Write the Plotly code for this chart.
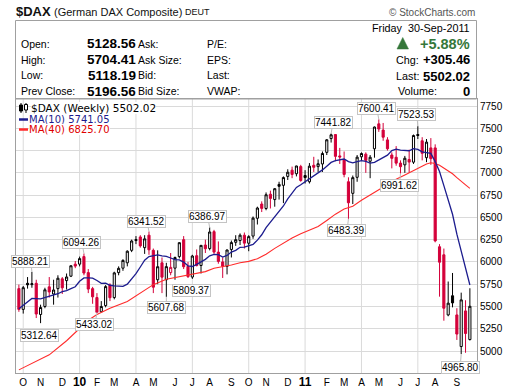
import plotly.graph_objects as go
import pandas as pd

# ---------------- data ----------------
first_week = "2009-09-28"          # weekly bars, dated by week start
prior_close = 5581.0               # close of the week before the first bar

opens = [5700, 5467, 5760, 5745, 5760, 5410, 5500, 5720, 5640, 5700,
         5810, 5790, 5840, 5975, 5975, 6060, 5880, 5700, 5600, 5440,
         5510, 5740, 5600, 5880, 5930, 5990, 6130, 6240, 6280, 6160,
         6300, 6130, 5800, 5990, 5800, 5880, 5930, 6060, 6250, 5950,
         5830, 6070, 5960, 6190, 6150, 6340, 6110, 6000, 5950, 6140,
         6220, 6240, 6300, 6210, 6290, 6490, 6650, 6600, 6760, 6700,
         6870, 6860, 6960, 7030, 6990, 7070, 6970, 6900, 7085, 7070,
         7100, 7230, 7385, 7430, 7190, 7145, 6900, 6770, 6950, 7180,
         7210, 7130, 7270, 7550, 7480, 7370, 7200, 7175, 7110, 7090,
         7150, 7120, 7430, 7360, 7170, 7280, 7280, 6170, 6080, 5405,
         5620, 5405, 5050, 5450, 5128.56]
highs = [5745, 5730, 5830, 5888.21, 5800, 5520, 5710, 5830, 5800, 5850,
         5830, 5870, 5960, 6010, 6060, 6094.26, 5920, 5720, 5650, 5560,
         5740, 5760, 5890, 5950, 6030, 6130, 6250, 6290, 6300, 6300,
         6341.52, 6150, 6130, 6050, 5990, 6100, 6060, 6220, 6290, 6000,
         6080, 6140, 6190, 6250, 6386.97, 6360, 6230, 6050, 6140, 6240,
         6300, 6320, 6330, 6300, 6510, 6620, 6680, 6780, 6800, 6830,
         6900, 6960, 7040, 7070, 7080, 7090, 7030, 7110, 7180, 7150,
         7240, 7380, 7441.82, 7435, 7280, 7240, 6950, 6970, 7200, 7230,
         7230, 7200, 7520, 7600.41, 7560, 7400, 7230, 7300, 7140, 7190,
         7260, 7430, 7523.53, 7400, 7380, 7390, 7320, 6200, 6150, 5780,
         5876, 5480, 5655, 5570, 5704.41]
lows = [5440, 5420, 5700, 5710, 5370, 5312.64, 5480, 5600, 5520, 5600,
        5640, 5690, 5830, 5930, 5950, 5850, 5650, 5530, 5433.02, 5435,
        5490, 5560, 5580, 5850, 5900, 5950, 6110, 6200, 6160, 6090,
        6080, 5650, 5750, 5650, 5607.68, 5850, 5800, 6040, 5920, 5820,
        5809.37, 5950, 5870, 6100, 6130, 6090, 5980, 5820, 5860, 6050,
        6180, 6190, 6150, 6120, 6260, 6420, 6560, 6580, 6600, 6620,
        6700, 6660, 6920, 6940, 6960, 6900, 6880, 6880, 7010, 7010,
        7010, 7200, 7340, 7130, 7100, 6950, 6483.39, 6650, 6900, 7140,
        7000, 6940, 7170, 7460, 7360, 7250, 7050, 7080, 6991.62, 7000,
        7000, 7100, 7380, 7140, 7120, 7090, 6220, 5610, 5340, 5390,
        5490, 5124, 4965.80, 4980, 5118.19]
closes = [5467, 5711, 5743, 5755, 5415, 5488, 5687, 5663, 5685, 5817,
          5709, 5831, 5957, 5953, 6037, 5875, 5695, 5608, 5434, 5500,
          5723, 5598, 5877, 5928, 6017, 6120, 6235, 6250, 6180, 6259,
          6136, 5716, 5946, 5829, 5947, 5939, 6049, 6216, 5946, 5835,
          6066, 5959, 6186, 6148, 6336, 6110, 6006, 5951, 6134, 6217,
          6250, 6300, 6211, 6284, 6492, 6605, 6601, 6754, 6713, 6822,
          6849, 6947, 7007, 6982, 7077, 6914, 6947, 7075, 7062, 7102,
          7217, 7371, 7427, 7185, 7178, 6982, 6664, 6946, 7176, 7217,
          7140, 7175, 7514, 7492, 7400, 7270, 7163, 7109, 7069, 7164,
          7121, 7419, 7420, 7219, 7345, 7159, 6236, 5997, 5480, 5537,
          5540, 5190, 5574, 5196.56, 5502.02]

ma10_weeks = [0, 3, 5, 8] + list(range(9, 105))
ma10_values = [5475, 5590, 5585, 5625,
               5643, 5667, 5679, 5701, 5721, 5783, 5821, 5822, 5817, 5792,
               5760, 5761, 5738, 5730, 5728, 5726, 5750, 5804, 5868, 5943,
               6019, 6060, 6072, 6079, 6069, 6062, 6044, 6025, 6022, 5998,
               5956, 5949, 5973, 5997, 6029, 6068, 6085, 6081, 6054, 6073,
               6111, 6130, 6164, 6166, 6180, 6196, 6245, 6305, 6385, 6443,
               6503, 6563, 6628, 6707, 6777, 6836, 6867, 6901, 6933, 6968,
               6996, 7033, 7075, 7117, 7138, 7148, 7155, 7126, 7113, 7125,
               7136, 7129, 7109, 7118, 7148, 7171, 7199, 7249, 7266, 7255,
               7250, 7248, 7272, 7263, 7235, 7230, 7219, 7126, 7015, 6856,
               6693, 6535, 6312, 6128, 5925, 5741.05]
ma40_weeks = [0, 3, 7, 11, 14, 16, 18, 21, 25, 28, 31, 34, 37, 39, 41, 43,
              45, 47, 49, 51, 53, 55, 57, 59, 61, 63, 65, 67, 69, 71, 73, 75,
              77, 79, 81, 83, 85, 87, 89, 91, 93, 94, 95, 96, 97, 98, 99, 100,
              101, 102, 103, 104]
ma40_values = [4788, 4863, 4957, 5115, 5255, 5345, 5410, 5480, 5555, 5650,
               5745, 5805, 5835, 5849, 5870, 5891, 5930, 5945, 5966, 5991,
               6006, 6036, 6087, 6152, 6214, 6269, 6315, 6354, 6397, 6465,
               6536, 6593, 6626, 6692, 6749, 6815, 6871, 6929, 6976, 7026,
               7079, 7100, 7114, 7105, 7086, 7055, 7023, 6990, 6946, 6910,
               6865, 6825.70]

label_weeks = [3, 5, 15, 18, 30, 34, 40, 44, 72, 76, 83, 88, 92, 102]
label_values = [5888.21, 5312.64, 6094.26, 5433.02, 6341.52, 5607.68, 5809.37,
                6386.97, 7441.82, 6483.39, 7600.41, 6991.62, 7523.53, 4965.80]

y_ticks = [5000, 5250, 5500, 5750, 6000, 6250, 6500, 6750, 7000, 7250, 7500, 7750]

quote_labels = ["Open:", "High:", "Low:", "Prev Close:"]
quote_values = ["5128.56", "5704.41", "5118.19", "5196.56"]
bid_labels = ["Ask:", "Ask Size:", "Bid:", "Bid Size:"]
misc_labels = ["P/E:", "EPS:", "Last:", "VWAP:"]
day_text = "Friday\u00a0\u00a030-Sep-2011"
pct_text = "+5.88%"
side_labels = ["Chg:", "Last:", "Volume:"]
side_values = ["+305.46", "5502.02", "0"]
legend_price = "$DAX (Weekly) 5502.02"
legend_ma10 = "MA(10) 5741.05"
legend_ma40 = "MA(40) 6825.70"

# ---------------- styling ----------------
FONT = "Liberation Sans, Arial, sans-serif"
LFONT = "DejaVu Sans, Verdana, sans-serif"
RED = "#d4003a"
GRID = "#dadada"
BORDER = "#a0a0a0"
GREEN = "#35773a"
NAVY = "#1c1c8e"
MARED = "#ff2b2b"

dates = pd.date_range(first_week, periods=len(closes), freq="W-MON")

PLOT_TOP, PLOT_BOTTOM = 99, 373


def PX(x):
    return (x - 16) / 461


def PY(y):
    return (PLOT_BOTTOM - y) / (PLOT_BOTTOM - PLOT_TOP)


prev = [prior_close] + closes[:-1]
black_idx = [k for k in range(len(closes)) if closes[k] >= prev[k]]
red_idx = [k for k in range(len(closes)) if closes[k] < prev[k]]

fig = go.Figure()
fig.add_trace(go.Scatter(x=dates[ma40_weeks], y=ma40_values, mode="lines",
                         line=dict(color=MARED, width=1.1), hoverinfo="skip"))
fig.add_trace(go.Scatter(x=dates[ma10_weeks], y=ma10_values, mode="lines",
                         line=dict(color=NAVY, width=1.3), hoverinfo="skip"))
for idx, col in ((black_idx, "#000000"), (red_idx, RED)):
    fig.add_trace(go.Candlestick(
        x=dates[idx],
        open=[opens[k] for k in idx], high=[highs[k] for k in idx],
        low=[lows[k] for k in idx], close=[closes[k] for k in idx],
        increasing=dict(line=dict(color=col, width=1), fillcolor="white"),
        decreasing=dict(line=dict(color=col, width=1), fillcolor=col),
        whiskerwidth=0, hoverinfo="skip", showlegend=False))

# month ticks at first bar of each month
month_ticks, month_text = [], []
for k in range(1, len(dates)):
    if dates[k].month != dates[k - 1].month:
        month_ticks.append(dates[k])
        if dates[k].month == 1:
            month_text.append("<b><span style='font-size:12px'>%02d</span></b>" % (dates[k].year % 100))
        else:
            month_text.append(dates[k].strftime("%b")[0])
quarter_ticks = [d for d in month_ticks if d.month in (1, 4, 7, 10)]

shapes = []
for d in quarter_ticks:
    shapes.append(dict(type="line", xref="x", yref="paper", x0=d, x1=d, y0=0, y1=1,
                       line=dict(color=GRID, width=1), layer="below"))
# header box
shapes.append(dict(type="rect", xref="paper", yref="paper", x0=PX(15.5), x1=PX(476.5),
                   y0=PY(99), y1=PY(20.5), line=dict(color=BORDER, width=1)))
# up-arrow icon next to the percent change
shapes.append(dict(type="path", xref="paper", yref="paper",
                   path="M %f %f L %f %f L %f %f Z" % (PX(397), PY(49), PX(408.5), PY(49),
                                                       PX(402.75), PY(37.5)),
                   line=dict(color=GREEN, width=0.5), fillcolor=GREEN))
# legend line keys
shapes.append(dict(type="line", xref="paper", yref="paper", x0=PX(19), x1=PX(28),
                   y0=PY(119.5), y1=PY(119.5), line=dict(color=NAVY, width=2.5)))
shapes.append(dict(type="line", xref="paper", yref="paper", x0=PX(19), x1=PX(28),
                   y0=PY(129.5), y1=PY(129.5), line=dict(color=MARED, width=2.5)))
# candle icon
shapes.append(dict(type="line", xref="paper", yref="paper", x0=PX(21), x1=PX(21),
                   y0=PY(103), y1=PY(113), line=dict(color="black", width=1)))
shapes.append(dict(type="rect", xref="paper", yref="paper", x0=PX(19.5), x1=PX(22.5),
                   y0=PY(105), y1=PY(111), line=dict(color="black", width=1), fillcolor="black"))
shapes.append(dict(type="line", xref="paper", yref="paper", x0=PX(26), x1=PX(26),
                   y0=PY(103), y1=PY(113), line=dict(color="black", width=1)))
shapes.append(dict(type="rect", xref="paper", yref="paper", x0=PX(24.5), x1=PX(27.5),
                   y0=PY(104.5), y1=PY(110), line=dict(color="black", width=1), fillcolor="white"))

ann = []


def txt(x, y, s, anchor="left", size=10.5, bold=False, color="#000", family=FONT, bg=None):
    d = dict(xref="paper", yref="paper", x=PX(x), y=PY(y),
             text=("<b>%s</b>" % s) if bold else s, showarrow=False,
             xanchor=anchor, yanchor="middle", align=anchor if anchor != "center" else "center",
             borderpad=0, borderwidth=0,
             font=dict(size=size, color=color, family=family))
    if bg:
        d["bgcolor"] = bg
    ann.append(d)


txt(16, 11.5, "$DAX", size=13, bold=True, color="#111")
txt(54, 11.5, "(German DAX Composite)", size=11, color="#111")
txt(185, 12, "DEUT", size=9, color="#111")
txt(475, 12.5, "\u00a9 StockCharts.com", anchor="right", size=10, color="#555")
rows_y = [43.7, 59.5, 75.3, 91]
for k, yy in enumerate(rows_y):
    txt(20.5, yy, quote_labels[k], size=10.5)
    txt(135.5, yy, quote_values[k], anchor="right", size=13.5, bold=True)
    txt(138, yy, bid_labels[k], size=10.5)
    txt(206.5, yy, misc_labels[k], size=10.5)
txt(470, 28, day_text, anchor="right", size=10.8)
txt(470, 43.7, pct_text, anchor="right", size=14.5, bold=True, color=GREEN)
for k, yy in enumerate([60, 76, 91]):
    txt(396 if k < 2 else 398, yy, side_labels[k], size=10.8)
    txt(470, yy, side_values[k], anchor="right", size=13, bold=True)

# in-plot legend
txt(31, 108, legend_price, size=10.5, family=LFONT, bg="white")
txt(29, 119.5, legend_ma10, size=10, family=LFONT, color=NAVY, bg="white")
txt(29, 129.5, legend_ma40, size=10, family=LFONT, color="#e00000", bg="white")

# price callouts (box offsets in pixels)
offsets = [(-1, -10), (-1, 12), (-2, -11), (-2, 12), (-2, -10.5), (0, 11), (-1, 12),
           (-2, -10.5), (2, -11), (-1.5, 12), (-2, -11), (-1, 11.5), (-1, -11.7), (-1, 13)]
for w, v, (ax, ay) in zip(label_weeks, label_values, offsets):
    ann.append(dict(x=dates[w], y=v, xref="x", yref="y", text="%.2f" % v,
                    showarrow=True, arrowhead=0, arrowwidth=1, arrowcolor="#bdbdbd",
                    ax=ax, ay=ay, bgcolor="white", bordercolor="#c4c4c4", borderwidth=1,
                    borderpad=0, font=dict(size=10, family=FONT, color="#000")))

fig.update_layout(
    width=520, height=391,
    margin=dict(l=16, r=43, t=PLOT_TOP, b=391 - PLOT_BOTTOM, autoexpand=False),
    paper_bgcolor="white", plot_bgcolor="white",
    showlegend=False, hovermode=False,
    font=dict(family=FONT, size=10, color="#000"),
    xaxis=dict(type="date", range=["2009-09-23 08:00", "2011-10-07 12:00"],
               tickmode="array", tickvals=month_ticks, ticktext=month_text,
               showgrid=False, showline=True, linecolor=BORDER, mirror=True,
               ticks="", zeroline=False, rangeslider=dict(visible=False),
               tickfont=dict(size=10, family=FONT), automargin=False),
    yaxis=dict(side="right", range=[4753, 7829], tickmode="array", tickvals=y_ticks,
               showgrid=True, gridcolor=GRID, gridwidth=1, showline=True,
               linecolor=BORDER, mirror=True, ticks="", zeroline=False,
               tickfont=dict(size=10, family=FONT), automargin=False),
    shapes=shapes, annotations=ann,
)

fig.write_html("out.html", config={"displayModeBar": False},
               post_script="document.body.style.margin='0px';document.body.style.padding='0px';")
